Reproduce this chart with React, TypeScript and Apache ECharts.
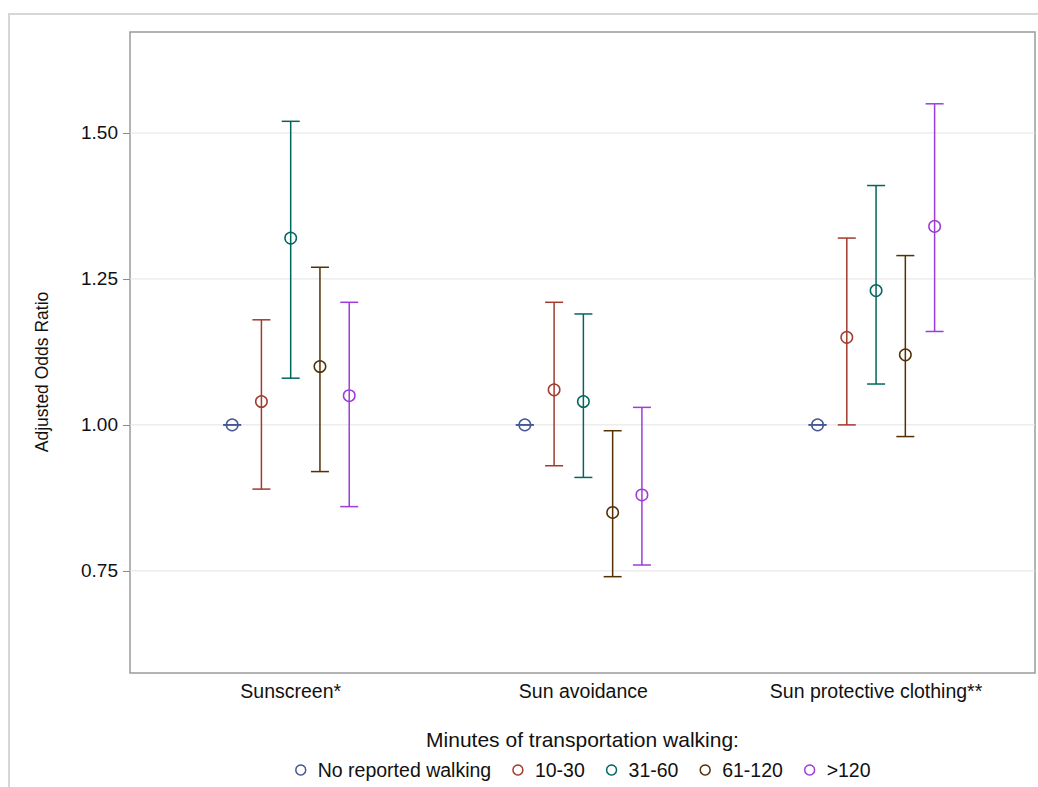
import React, { useEffect, useRef } from "react";
import * as echarts from "echarts";

const categories = ["Sunscreen*", "Sun avoidance", "Sun protective clothing**"];
const groups = ["No reported walking", "10-30", "31-60", "61-120", ">120"];
const colors = ["#445694", "#A23A2E", "#01665E", "#543005", "#9D3CDB"];
const offsets = [-0.2, -0.1, 0, 0.1, 0.2];

const estNone = [1.0, 1.0, 1.0];
const lowNone = [1.0, 1.0, 1.0];
const highNone = [1.0, 1.0, 1.0];

const est10 = [1.04, 1.06, 1.15];
const low10 = [0.89, 0.93, 1.0];
const high10 = [1.18, 1.21, 1.32];

const est31 = [1.32, 1.04, 1.23];
const low31 = [1.08, 0.91, 1.07];
const high31 = [1.52, 1.19, 1.41];

const est61 = [1.1, 0.85, 1.12];
const low61 = [0.92, 0.74, 0.98];
const high61 = [1.27, 0.99, 1.29];

const est120 = [1.05, 0.88, 1.34];
const low120 = [0.86, 0.76, 1.16];
const high120 = [1.21, 1.03, 1.55];

const yTicks = [0.75, 1.0, 1.25, 1.5];

const estimates = [estNone, est10, est31, est61, est120];
const lows = [lowNone, low10, low31, low61, low120];
const highs = [highNone, high10, high31, high61, high120];

const FONT = "'Liberation Sans', Arial, sans-serif";

export default function App() {
  const ref = useRef<HTMLDivElement>(null);

  useEffect(() => {
    document.body.style.margin = "0";
    if (!ref.current) return;
    const chart = echarts.init(ref.current, null, { renderer: "svg" });

    const gridSeries: any = {
      type: "custom",
      name: "grid",
      silent: true,
      z: 1,
      data: yTicks.map((v) => [0, v]),
      encode: { x: 0, y: 1 },
      renderItem: (params: any, api: any) => {
        const cs = params.coordSys;
        const p = api.coord([0, api.value(1)]);
        return {
          type: "line",
          shape: { x1: cs.x, y1: p[1], x2: cs.x + cs.width, y2: p[1] },
          style: { stroke: "#e3e3e3", lineWidth: 1 },
        };
      },
    };

    const barSeries = groups.map((g, gi) => ({
      type: "custom",
      name: g + " CI",
      silent: true,
      z: 2,
      data: categories.map((_, ci) => [ci + offsets[gi], lows[gi][ci], highs[gi][ci]]),
      encode: { x: 0, y: [1, 2] },
      renderItem: (params: any, api: any) => {
        const x = api.value(0);
        const pLo = api.coord([x, api.value(1)]);
        const pHi = api.coord([x, api.value(2)]);
        const hw = 9;
        const style = { stroke: colors[gi], lineWidth: 1.5 };
        return {
          type: "group",
          children: [
            { type: "line", shape: { x1: pLo[0], y1: pLo[1], x2: pHi[0], y2: pHi[1] }, style },
            { type: "line", shape: { x1: pLo[0] - hw, y1: pLo[1], x2: pLo[0] + hw, y2: pLo[1] }, style },
            { type: "line", shape: { x1: pHi[0] - hw, y1: pHi[1], x2: pHi[0] + hw, y2: pHi[1] }, style },
          ],
        };
      },
    }));

    const pointSeries = groups.map((g, gi) => ({
      type: "scatter",
      name: g,
      z: 3,
      symbol: "circle",
      symbolSize: 11.5,
      itemStyle: { color: "rgba(255,255,255,0)", borderColor: colors[gi], borderWidth: 1.5, opacity: 1 },
      data: categories.map((_, ci) => [ci + offsets[gi], estimates[gi][ci]]),
    }));

    chart.setOption({
      animation: false,
      grid: {
        left: 130,
        top: 32,
        right: 3,
        bottom: 114,
        show: true,
        borderColor: "#9a9a9a",
        borderWidth: 1.5,
        backgroundColor: "#fff",
      },
      xAxis: {
        type: "value",
        min: -0.549,
        max: 2.543,
        axisLine: { show: false, onZero: false },
        axisTick: { show: false },
        splitLine: { show: false },
        axisLabel: {
          customValues: [0, 1, 2],
          formatter: (v: number) => categories[Math.round(v)] ?? "",
          fontFamily: FONT,
          fontSize: 19.5,
          color: "#111",
          margin: 8,
        },
      },
      yAxis: {
        type: "value",
        min: 0.575,
        max: 1.673,
        axisLine: { show: false, onZero: false },
        splitLine: { show: false },
        axisTick: {
          show: true,
          customValues: yTicks,
          length: 7,
          lineStyle: { color: "#8a8a8a", width: 1 },
        },
        axisLabel: {
          customValues: yTicks,
          formatter: (v: number) => v.toFixed(2),
          fontFamily: FONT,
          fontSize: 19,
          color: "#111",
          margin: 12,
        },
      },
      legend: {
        left: 290,
        top: 755,
        itemWidth: 10,
        itemHeight: 10,
        itemGap: 21,
        textStyle: { fontFamily: FONT, fontSize: 19.5, color: "#111", padding: [0, 0, 0, 7] },
        data: groups.map((g, gi) => ({
          name: g,
          icon: "circle",
          itemStyle: { color: "rgba(255,255,255,0)", borderColor: colors[gi], borderWidth: 1.5 },
        })),
      },
      graphic: [
        {
          type: "rect",
          silent: true,
          z: -10,
          shape: { x: 9, y: 14, width: 1200, height: 900 },
          style: { fill: "none", stroke: "#d6d6d6", lineWidth: 2 },
        },
        {
          type: "text",
          x: 42,
          y: 372,
          rotation: Math.PI / 2,
          style: {
            text: "Adjusted Odds Ratio",
            font: `17.5px ${FONT}`,
            fill: "#111",
            align: "center",
            verticalAlign: "middle",
          },
        },
        {
          type: "text",
          x: 582.5,
          y: 739,
          style: {
            text: "Minutes of transportation walking:",
            font: `21px ${FONT}`,
            fill: "#111",
            align: "center",
            verticalAlign: "middle",
          },
        },
      ],
      series: [gridSeries, ...barSeries, ...pointSeries],
    });

    return () => chart.dispose();
  }, []);

  return <div ref={ref} style={{ width: 1038, height: 787 }} />;
}
